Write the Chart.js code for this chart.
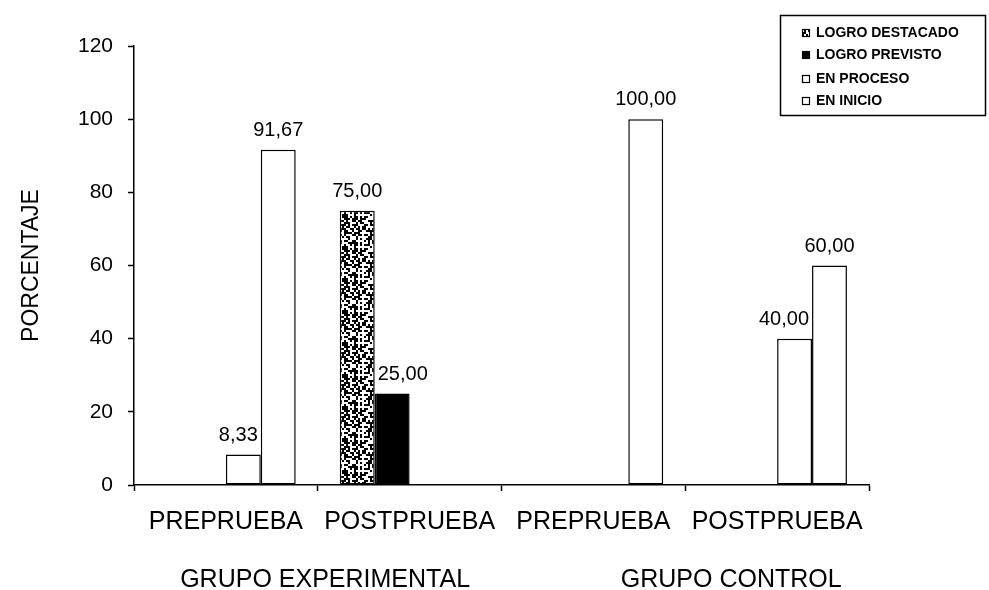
<!DOCTYPE html>
<html>
<head>
<meta charset="utf-8">
<script src="https://cdn.jsdelivr.net/npm/chart.js@4.4.0/dist/chart.umd.min.js"></script>
<style>
html,body{margin:0;padding:0;background:#fff;}
#wrap{width:989px;height:590px;}
</style>
</head>
<body>
<div id="wrap"><canvas id="c" width="989" height="590"></canvas></div>
<script>
// ---- data ----
const categories = ['PREPRUEBA', 'POSTPRUEBA', 'PREPRUEBA', 'POSTPRUEBA'];
const groups = ['GRUPO EXPERIMENTAL', 'GRUPO CONTROL'];
const seriesNames = ['LOGRO DESTACADO', 'LOGRO PREVISTO', 'EN PROCESO', 'EN INICIO'];
const logroDestacado = [0, 75.00, 0, 0];
const logroPrevisto  = [0, 25.00, 0, 0];
const enProceso      = [8.33, 0, 0, 40.00];
const enInicio       = [91.67, 0, 100.00, 60.00];
const yMax = 120;
const yStep = 20;
const yTitle = 'PORCENTAJE';

// ---- styles ----
const FONT = "'Liberation Sans', Arial, Helvetica, sans-serif";
Chart.defaults.font.family = FONT;
Chart.defaults.color = '#000';

const canvas = document.getElementById('c');
const mainCtx = canvas.getContext('2d');

function makeSpeckle() {
  const c = document.createElement('canvas');
  c.width = 32; c.height = 32;
  const g = c.getContext('2d');
  g.fillStyle = '#fff'; g.fillRect(0, 0, 32, 32);
  g.fillStyle = '#000';
  for (let y = 0; y < 32; y += 2) {
    for (let x = 0; x < 32; x += 2) {
      let h = (Math.imul(x + 11, 374761393) + Math.imul(y + 7, 668265263)) >>> 0;
      h = Math.imul(h ^ (h >>> 13), 1274126177) >>> 0;
      h = (h ^ (h >>> 16)) >>> 0;
      if ((h & 255) < 115) g.fillRect(x, y, 2, 2);
    }
  }
  return mainCtx.createPattern(c, 'repeat');
}
const speckle = makeSpeckle();

const fills = [speckle, '#000', '#fff', '#fff'];
const seriesData = [logroDestacado, logroPrevisto, enProceso, enInicio];

const fmt = v => v.toFixed(2).replace('.', ',');

// data labels above bars; nudged sideways when a taller neighbouring bar would overlap
const dataLabelPlugin = {
  id: 'dataLabels',
  afterDatasetsDraw(chart) {
    const ctx = chart.ctx;
    ctx.save();
    ctx.font = '20px ' + FONT;
    ctx.fillStyle = '#000';
    ctx.textAlign = 'center';
    ctx.textBaseline = 'alphabetic';
    const n = chart.data.datasets.length;
    chart.data.datasets.forEach((ds, i) => {
      const meta = chart.getDatasetMeta(i);
      meta.data.forEach((el, j) => {
        const v = ds.data[j];
        if (!(v > 0)) return;
        const txt = fmt(v);
        const w = ctx.measureText(txt).width;
        const baseY = el.y - 14;
        const topY = baseY - 16;
        let x = el.x;
        const half = el.width / 2;
        if (i > 0) {
          const lv = chart.data.datasets[i - 1].data[j];
          const le = chart.getDatasetMeta(i - 1).data[j];
          if (lv > 0 && le.y < baseY && x - w / 2 < le.x + half + 3) x = le.x + half + 3 + w / 2;
        }
        if (i < n - 1) {
          const rv = chart.data.datasets[i + 1].data[j];
          const re = chart.getDatasetMeta(i + 1).data[j];
          if (rv > 0 && re.y < baseY && x + w / 2 > re.x - half - 3) x = re.x - half - 3 - w / 2;
        }
        ctx.fillText(txt, x, baseY);
      });
    });
    ctx.restore();
  }
};

const groupPos = [0.54, 2.75];
const groupLabelPlugin = {
  id: 'groupLabels',
  afterDraw(chart) {
    const ctx = chart.ctx;
    const xs = chart.scales.x;
    ctx.save();
    ctx.font = '25px ' + FONT;
    ctx.fillStyle = '#000';
    ctx.textAlign = 'center';
    ctx.textBaseline = 'middle';
    groups.forEach((g, i) => {
      ctx.fillText(g, xs.getPixelForValue(groupPos[i]), 580);
    });
    ctx.restore();
  }
};

const legendPlugin = {
  id: 'boxLegend',
  afterDraw(chart) {
    const ctx = chart.ctx;
    ctx.save();
    ctx.strokeStyle = '#000';
    ctx.lineWidth = 1.5;
    ctx.strokeRect(780.5, 15.5, 205, 100);
    ctx.font = 'bold 14px ' + FONT;
    ctx.textAlign = 'left';
    ctx.textBaseline = 'middle';
    const ys = [33, 55, 79, 101];
    chart.data.datasets.forEach((ds, i) => {
      const y = ys[i];
      ctx.fillStyle = fills[i];
      ctx.fillRect(802, y - 4, 8, 8);
      ctx.lineWidth = 1.2;
      ctx.strokeRect(802.5, y - 3.5, 7, 7);
      ctx.fillStyle = '#000';
      ctx.fillText(ds.label, 816, y);
    });
    ctx.restore();
  }
};

new Chart(canvas, {
  type: 'bar',
  data: {
    labels: categories,
    datasets: seriesNames.map((name, i) => ({
      label: name,
      data: seriesData[i],
      backgroundColor: fills[i],
      borderColor: '#000',
      borderWidth: ctx => (ctx.raw > 0 ? 1.5 : 0),
      borderSkipped: false
    }))
  },
  options: {
    responsive: false,
    animation: false,
    devicePixelRatio: 1,
    layout: { padding: { top: 46, right: 120, bottom: 0, left: 0 } },
    datasets: { bar: { categoryPercentage: 0.76, barPercentage: 1 } },
    plugins: { legend: { display: false }, tooltip: { enabled: false } },
    scales: {
      x: {
        grid: { display: true, drawOnChartArea: false, color: '#000', tickLength: 6, tickWidth: 1.5 },
        border: { display: true, color: '#000', width: 1.5 },
        ticks: { color: '#000', font: { size: 25 }, padding: 16, autoSkip: false, maxRotation: 0, minRotation: 0 },
        afterFit: s => { s.height = 105; }
      },
      y: {
        min: 0, max: yMax,
        ticks: { stepSize: yStep, color: '#000', font: { size: 21 }, padding: 15 },
        grid: { display: true, drawOnChartArea: false, color: '#000', tickLength: 6, tickWidth: 1.5 },
        border: { display: true, color: '#000', width: 1.5 },
        title: { display: true, text: yTitle, color: '#000', font: { size: 23 }, padding: { top: 18, bottom: 0 } },
        afterFit: s => { s.width = 134; }
      }
    }
  },
  plugins: [dataLabelPlugin, groupLabelPlugin, legendPlugin]
});
</script>
</body>
</html>
